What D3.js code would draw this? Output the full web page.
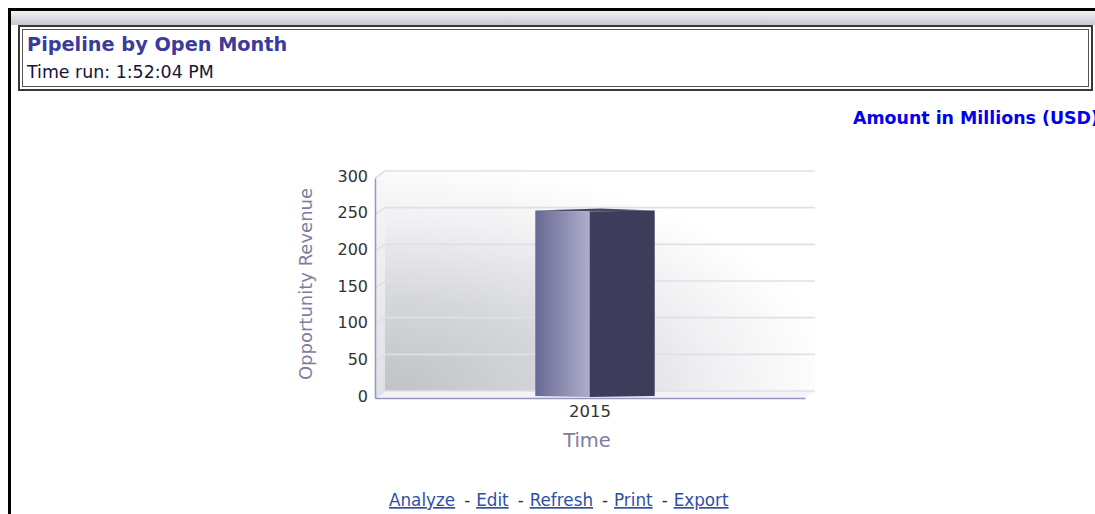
<!DOCTYPE html>
<html>
<head>
<meta charset="utf-8">
<script src="https://cdn.jsdelivr.net/npm/d3@7"></script>
<style>
  html, body { margin: 0; padding: 0; background: #fff; }
  svg { display: block; }
  text { font-family: "DejaVu Sans", Verdana, sans-serif; }
</style>
</head>
<body>
<svg id="page" width="1095" height="514"></svg>
<script>
// Report data
const categories = ["2015"];
const revenue = [253];
const yTicks = [0, 50, 100, 150, 200, 250, 300];
const reportTitle = "Pipeline by Open Month";
const runTime = "Time run: 1:52:04 PM";
const unitsNote = "Amount in Millions (USD)";
const yTitle = "Opportunity Revenue";
const xTitle = "Time";
const actions = ["Analyze", "Edit", "Refresh", "Print", "Export"];

const svg = d3.select("#page");
const defs = svg.append("defs");

// ---- page frame ----
const hdr = defs.append("linearGradient").attr("id", "hdr").attr("x1", 0).attr("y1", 0).attr("x2", 0).attr("y2", 1);
hdr.append("stop").attr("offset", 0).attr("stop-color", "#f2f2f5");
hdr.append("stop").attr("offset", 1).attr("stop-color", "#c6c8d0");
svg.append("rect").attr("x", 11).attr("y", 11).attr("width", 1084).attr("height", 14).attr("fill", "url(#hdr)");
svg.append("rect").attr("x", 8).attr("y", 8).attr("width", 1087).attr("height", 3).attr("fill", "#000");
svg.append("rect").attr("x", 8).attr("y", 8).attr("width", 3).attr("height", 506).attr("fill", "#000");

// title box with double border
svg.append("rect").attr("x", 19).attr("y", 26).attr("width", 1073).attr("height", 64)
  .attr("fill", "#fff").attr("stroke", "#383838").attr("stroke-width", 2);
svg.append("rect").attr("x", 22.5).attr("y", 29.5).attr("width", 1066).attr("height", 57)
  .attr("fill", "none").attr("stroke", "#555").attr("stroke-width", 1);

svg.append("text").attr("x", 27).attr("y", 51).attr("font-size", 19.3).attr("font-weight", "bold")
  .attr("fill", "#3b3b9c").text(reportTitle);
svg.append("text").attr("x", 27).attr("y", 78).attr("font-size", 17.4).attr("fill", "#141438").text(runTime);

svg.append("text").attr("x", 853).attr("y", 124).attr("font-size", 17.4).attr("font-weight", "bold")
  .attr("fill", "#0000ee").text(unitsNote);

// ---- chart ----
const DX = 10, DY = -7;        // depth offset of the back wall
const y = d3.scaleLinear().domain([0, 300]).range([398, 178]);
const x = d3.scaleBand().domain(categories).range([375, 805]).paddingInner(0).paddingOuter(1.3);
const [x0, x1] = x.range();
const yTop = y(300), yBase = y(0);

// wall shading: grey in the lower-left corner fading to white
const wall = defs.append("radialGradient").attr("id", "wall")
  .attr("cx", 0).attr("cy", 1).attr("fx", 0).attr("fy", 1).attr("r", 1.05);
wall.append("stop").attr("offset", 0).attr("stop-color", "#c0c2c5");
wall.append("stop").attr("offset", 0.4).attr("stop-color", "#d6d7da");
wall.append("stop").attr("offset", 0.75).attr("stop-color", "#f1f1f3");
wall.append("stop").attr("offset", 1).attr("stop-color", "#ffffff");
const side = defs.append("linearGradient").attr("id", "side").attr("x1", 0).attr("y1", 1).attr("x2", 0).attr("y2", 0);
side.append("stop").attr("offset", 0).attr("stop-color", "#dfe0e4");
side.append("stop").attr("offset", 1).attr("stop-color", "#f8f8fa");
const front = defs.append("linearGradient").attr("id", "barFront").attr("x1", 0).attr("y1", 0).attr("x2", 1).attr("y2", 0);
front.append("stop").attr("offset", 0).attr("stop-color", "#686896");
front.append("stop").attr("offset", 1).attr("stop-color", "#aeaeca");

const poly = pts => pts.map(p => p.join(",")).join(" ");

// back wall, left wall, floor
svg.append("rect").attr("x", x0 + DX).attr("y", yTop + DY).attr("width", x1 - x0).attr("height", yBase - yTop)
  .attr("fill", "url(#wall)");
svg.append("polygon").attr("points", poly([[x0, yTop], [x0 + DX, yTop + DY], [x0 + DX, yBase + DY], [x0, yBase]]))
  .attr("fill", "url(#side)");
svg.append("polygon").attr("points", poly([[x0, yBase], [x0 + DX, yBase + DY], [x1 + DX, yBase + DY], [x1, yBase]]))
  .attr("fill", "#f4f4f8");

// gridlines on back and left walls
const grid = svg.append("g").attr("stroke", "#dfdfea").attr("stroke-width", 1.6).attr("fill", "none");
yTicks.forEach(t => {
  grid.append("polyline").attr("points", poly([[x0, y(t)], [x0 + DX, y(t) + DY], [x1 + DX, y(t) + DY]]));
});

// 3D bar, centred at mid depth
const split = 0.455;
categories.forEach((c, i) => {
  const bx0 = x(c) + DX / 2, bw = x.bandwidth(), bx1 = bx0 + bw, bxm = bx0 + bw * split;
  const h = y(0) - y(revenue[i]);
  const sideBase = yBase + DY / 2 + 1.5, frontBase = yBase - 1;
  const L = [bx0, sideBase], F = [bxm, frontBase], R = [bx1, sideBase];
  const lift = p => [p[0], p[1] - h];
  const B = [bx0 + bx1 - bxm, sideBase * 2 - frontBase - 1];
  svg.append("polygon").attr("points", poly([lift(L), lift(B), lift(R), lift(F)])).attr("fill", "#474768");
  svg.append("polygon").attr("points", poly([lift(L), lift(F), F, L])).attr("fill", "url(#barFront)");
  svg.append("polygon").attr("points", poly([lift(F), lift(R), R, F])).attr("fill", "#3d3d5b");
});

// axes
const yAxis = svg.append("g").attr("transform", `translate(${x0},0)`)
  .call(d3.axisLeft(y).tickValues(yTicks).tickSize(0).tickPadding(7));
yAxis.select(".domain").attr("stroke", "#9696bc").attr("stroke-width", 1.5);
yAxis.selectAll("text").attr("font-family", "DejaVu Sans").attr("font-size", 16)
  .attr("fill", "#333").attr("y", -2);

const xAxis = svg.append("g").attr("transform", `translate(0,${yBase})`)
  .call(d3.axisBottom(x).tickSize(0).tickPadding(0));
xAxis.select(".domain").attr("stroke", "#9696bc").attr("stroke-width", 1.5);
xAxis.selectAll("text").attr("font-family", "DejaVu Sans").attr("font-size", 16.5)
  .attr("fill", "#333").attr("dy", 0).attr("y", 19);

svg.append("text").attr("transform", `translate(${x0 - 69},${(yTop + yBase) / 2 - 4}) rotate(-90)`)
  .attr("text-anchor", "middle").attr("dy", "0.35em").attr("font-size", 18).attr("fill", "#7c7ca2").text(yTitle);
svg.append("text").attr("x", (x0 + x1) / 2 - 3).attr("y", 447).attr("text-anchor", "middle")
  .attr("font-size", 19.5).attr("fill", "#7c7ca2").text(xTitle);

// ---- action links ----
const bar = svg.append("g").attr("font-size", 16.8);
let cx = 389;
actions.forEach((a, i) => {
  if (i > 0) {
    bar.append("text").attr("x", cx + 9).attr("y", 506).attr("fill", "#333").text("-");
    cx += 21;
  }
  const t = bar.append("text").attr("x", cx).attr("y", 506).attr("fill", "#2f4fa6")
    .style("text-decoration", "underline").text(a);
  cx += t.node().getComputedTextLength();
});
</script>
</body>
</html>
